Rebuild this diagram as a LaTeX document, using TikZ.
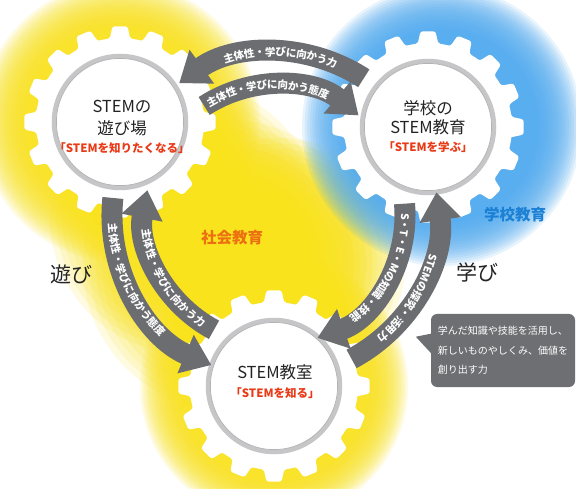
\documentclass[tikz,border=0pt]{standalone}
\usepackage{fontspec}
\setmainfont{Noto Sans CJK JP}
\usetikzlibrary{arrows.meta,decorations.text}

\definecolor{arrowgray}{RGB}{108,109,113}
\definecolor{haloyellow}{RGB}{249,227,28}
\definecolor{haloblue}{RGB}{78,170,240}
\definecolor{titlegray}{RGB}{35,35,35}
\definecolor{subred}{RGB}{232,58,22}
\definecolor{orangelabel}{RGB}{236,112,18}
\definecolor{bluelabel}{RGB}{28,128,212}
\definecolor{ringgray}{RGB}{198,198,200}
\definecolor{boxgray}{RGB}{110,111,114}

\pgfdeclareradialshading{disc shade}{\pgfpointorigin}{color(0bp)=(white); color(38bp)=(white); color(50bp)=(black!16)}

\newcommand{\arcfont}{\fontsize{10.5}{10.5}\selectfont\bfseries}
% glow: colour, x, y, inner radius (full), outer radius (none)
\newcommand{\glow}[5]{%
  \foreach \k in {0,...,17}{%
    \fill[#1, opacity=0.13] (#2,#3) circle ({#5-(#5-#4)*\k/17});}}
\newcommand{\drawgear}[2]{%
  \fill[white, rounded corners=2.5pt, shift={(#1,#2)}]
    (-7:84) \foreach \a in {0,22.5,...,337.5}{
      -- (\a-4.5:96) -- (\a+4.5:96) -- (\a+7:84)
      arc[start angle=\a+7, end angle=\a+15.5, radius=84]};}
\newcommand{\drawdisc}[2]{%
  \shade[shading=disc shade] (#1,#2) circle (64);
  \draw[ringgray, line width=4.5pt] (#1,#2) circle (66);
  \draw[black!30, line width=0.7pt] (#1,#2) circle (63.6);}

\tikzset{
  band/.style={draw=arrowgray, line width=21pt, -{Triangle[length=28pt,width=40pt]}},
  arctext/.style={decorate, decoration={text along path, text align=center, raise=-3.8pt, text color=white, text={|\arcfont|#1}}},
  title/.style={text=titlegray, font=\fontsize{16.5}{16.5}\selectfont, inner sep=0pt},
  subtitle/.style={text=subred, font=\fontsize{11.5}{11.5}\selectfont\bfseries, inner sep=0pt},
  biglabel/.style={text=titlegray, font=\fontsize{21}{21}\selectfont, inner sep=0pt},
  colorlabel/.style={font=\fontsize{15.5}{15.5}\selectfont\bfseries, inner sep=0pt},
}

\begin{document}
\begin{tikzpicture}[x=1pt,y=1pt]
\useasboundingbox (0,0) rectangle (576,488);
\fill[white] (0,0) rectangle (576,488);

% glows
\glow{haloyellow}{120}{366}{94}{140}
\glow{haloyellow}{274}{102}{94}{134}
\glow{haloyellow}{185}{270}{30}{135}
\glow{haloyellow}{228}{223}{35}{145}
\glow{haloyellow}{280}{225}{30}{125}
\glow{haloblue}{442}{362}{96}{140}

% gears
\drawgear{120}{366}
\drawgear{428}{361}
\drawgear{274}{102}
\drawdisc{120}{366}
\drawdisc{428}{361}
\drawdisc{274}{102}

\coordinate (O) at (275,273);

% arrows: outer ring (counterclockwise)
\draw[band] (O) ++(57:163) arc[start angle=57, end angle=126, radius=163];
\draw[band] (O) ++(174:163) arc[start angle=174, end angle=247, radius=163];
\draw[band] (O) ++(-62:163) arc[start angle=-62, end angle=8, radius=163];
% arrows: inner ring (clockwise)
\draw[band] (O) ++(123:130) arc[start angle=123, end angle=50, radius=130];
\draw[band] (O) ++(242:130) arc[start angle=242, end angle=169, radius=130];
\draw[band] (O) ++(5:130) arc[start angle=5, end angle=-71, radius=130];

% texts on arrows
\path[arctext={主体性・学びに向かう力}] (O) ++(116:163) arc[start angle=116, end angle=60, radius=163];
\path[arctext={主体性・学びに向かう態度}] (O) ++(123:130) arc[start angle=123, end angle=64, radius=130];
\path[arctext={主体性・学びに向かう態度}] (O) ++(174:163) arc[start angle=174, end angle=236, radius=163];
\path[arctext={主体性・学びに向かう力}] (O) ++(181:130) arc[start angle=181, end angle=242, radius=130];
\path[arctext={S・T・E・Mの知識・技能}] (O) ++(5:130) arc[start angle=5, end angle=-58, radius=130];
\path[arctext={STEMの探究・活用力}] (O) ++(-2:163) arc[start angle=-2, end angle=-62, radius=163];

% gear texts
\node[title] (tl1) at (122,381) {STEMの};
\node[title] (tl2) at (122,360) {遊び場};
\node[subtitle] (tl3) at (122,340) {「STEMを知りたくなる」};
\node[title] (tr1) at (428,380) {学校の};
\node[title] (tr2) at (428,361) {STEM教育};
\node[subtitle] (tr3) at (428,341) {「STEMを学ぶ」};
\node[title] (bt1) at (275,116) {STEM教室};
\node[subtitle] (bt2) at (275,95) {「STEMを知る」};

% labels
\node[colorlabel, text=orangelabel] (shakai) at (232,250) {社会教育};
\node[colorlabel, text=bluelabel] (gakko) at (515,273) {学校教育};
\node[biglabel] (asobi) at (71,214) {遊び};
\node[biglabel] (manabi) at (477,216) {学び};

% callout
\node[fill=boxgray, rounded corners=6pt, minimum width=144pt, minimum height=73pt,
      text=white, align=left, font=\fontsize{10}{19.5}\selectfont] (callout) at (503,137.5)
  {学んだ知識や技能を活用し、\\新しいものやしくみ、価値を\\創り出す力};
\fill[boxgray] ([xshift=1pt,yshift=17pt]callout.west) -- ([xshift=-15pt,yshift=13.8pt]callout.west)
  -- ([xshift=1pt,yshift=-3.5pt]callout.west) -- cycle;
\end{tikzpicture}
\end{document}
